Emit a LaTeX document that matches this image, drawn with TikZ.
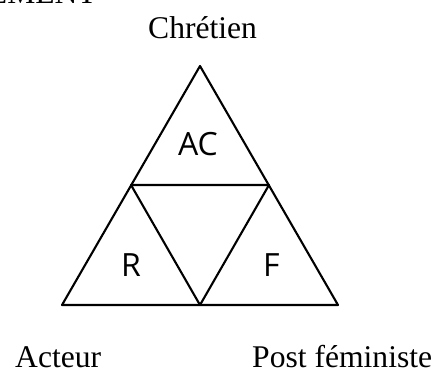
\documentclass[tikz,border=0pt]{standalone}
\usepackage{fontspec}
\setmainfont{Liberation Serif}
\newfontfamily\labelfont{Open Sans}
\begin{document}
\begin{tikzpicture}[x=1pt,y=-1pt,
  edge/.style={line width=2.1pt,line join=round,line cap=round},
  corner/.style={font=\fontsize{31.6}{38}\selectfont,inner sep=0pt,text depth=0pt,anchor=base west},
  part/.style={font=\labelfont\fontsize{32}{38}\selectfont,inner sep=0pt}]
\useasboundingbox (0,0) rectangle (433,372);
\coordinate (T) at (200,66);
\coordinate (BL) at (62,305);
\coordinate (BR) at (338,305);
\coordinate (ML) at (131,185);
\coordinate (MR) at (269,185);
\coordinate (BM) at (200,305);
\draw[edge] (T) -- (BR) -- (BL) -- cycle;
\draw[edge] (ML) -- (MR) -- (BM) -- cycle;
\node[part] (ac) at (198,144) {AC};
\node[part] (r) at (131,265) {R};
\node[part] (f) at (271.5,265) {F};
\node[corner] (top) at (148,38) {Chrétien};
\node[corner] (left) at (15,367) {Acteur};
\node[corner] (right) at (252,367) {Post féministe};
\node[corner,anchor=base east] (cut) at (97,4) {EMENT};
\end{tikzpicture}
\end{document}
